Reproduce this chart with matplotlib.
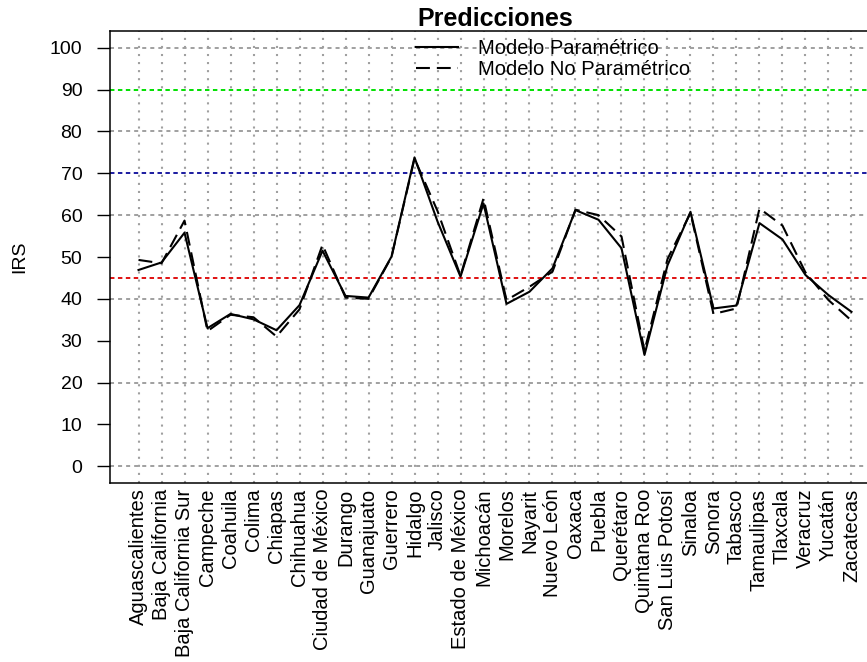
import matplotlib
matplotlib.use('Agg')
import matplotlib.pyplot as plt
import numpy as np

# Data
estados = ['Aguascalientes', 'Baja California', 'Baja California Sur', 'Campeche',
           'Coahuila', 'Colima', 'Chiapas', 'Chihuahua', 'Ciudad de México',
           'Durango', 'Guanajuato', 'Guerrero', 'Hidalgo', 'Jalisco',
           'Estado de México', 'Michoacán', 'Morelos', 'Nayarit', 'Nuevo León',
           'Oaxaca', 'Puebla', 'Querétaro', 'Quintana Roo', 'San Luis Potosí',
           'Sinaloa', 'Sonora', 'Tabasco', 'Tamaulipas', 'Tlaxcala', 'Veracruz',
           'Yucatán', 'Zacatecas']

parametrico = [46.9, 48.7, 55.8, 33.0, 36.4, 35.1, 32.5, 38.5, 51.5, 40.7,
               40.3, 50.1, 73.8, 58.5, 45.3, 62.8, 38.8, 41.7, 47.3, 61.2,
               58.9, 52.1, 26.6, 48.0, 60.8, 37.7, 38.4, 58.1, 54.2, 45.7,
               40.9, 36.9]

no_parametrico = [49.3, 48.5, 58.7, 32.3, 36.2, 35.6, 31.0, 37.5, 52.9, 40.3,
                  40.0, 50.0, 73.5, 61.0, 45.5, 64.0, 39.7, 42.9, 46.5, 61.3,
                  60.0, 54.9, 27.6, 49.5, 60.5, 36.4, 37.7, 61.6, 57.5, 46.3,
                  39.7, 34.8]

# Reference lines
umbrales = [90, 70, 45]
umbral_colores = ['#00e000', '#1a1aa0', '#e01010']

yticks = np.arange(0, 101, 10)
ygrid = np.arange(0, 101, 20)

plt.rcParams['font.family'] = ['Liberation Sans', 'DejaVu Sans']
plt.rcParams['lines.scale_dashes'] = False

fig = plt.figure(figsize=(8.67, 6.62), dpi=100)
# plot region runs past the right edge of the picture, as in the reference
ax = fig.add_axes([110 / 867, 1 - 483 / 662, 770 / 867, 452 / 662])

x = np.arange(len(estados))

# grid
for xi in x:
    ax.axvline(xi, color='#a0a0a0', lw=1.5, ls=(0, (1.5, 4.3)), zorder=1)
for yv in ygrid:
    ax.axhline(yv, color='#a0a0a0', lw=1.4, ls=(0, (2.9, 2.9)), zorder=1)

for yv, c in zip(umbrales, umbral_colores):
    ax.axhline(yv, color=c, lw=1.4, ls=(0, (3.2, 2.5)), zorder=2)

ax.plot(x, parametrico, color='black', lw=1.5, ls='-', label='Modelo Paramétrico', zorder=3)
ax.plot(x, no_parametrico, color='black', lw=1.5, ls=(0, (10, 5)),
        label='Modelo No Paramétrico', zorder=3)

ax.set_xlim(-1.24, len(estados) - 1 + 1.24)
ax.set_ylim(-4, 104)

ax.set_xticks(x)
ax.set_xticklabels(estados, rotation=90, fontsize=14.5)
ax.tick_params(axis='x', length=0, pad=4)
ax.set_yticks(yticks)
ax.tick_params(axis='y', labelsize=14, length=9.4, width=1, pad=10.5, direction='out')

ax.spines['right'].set_visible(False)
for s in ['left', 'top', 'bottom']:
    ax.spines[s].set_linewidth(1.1)

ax.set_ylabel('IRS', fontsize=14, va='center')
ax.yaxis.set_label_coords(-(110 - 20) / 770, 0.5)

ax.set_title('Predicciones', fontsize=18, fontweight='bold', pad=2)

fig.legend(loc='upper left', bbox_to_anchor=(416 / 867, 1 - 39 / 662), frameon=False,
           fontsize=14.5, handlelength=2.1, handletextpad=1.0, labelspacing=0.12,
           borderpad=0, borderaxespad=0)

fig.savefig('out.png', dpi=100)
